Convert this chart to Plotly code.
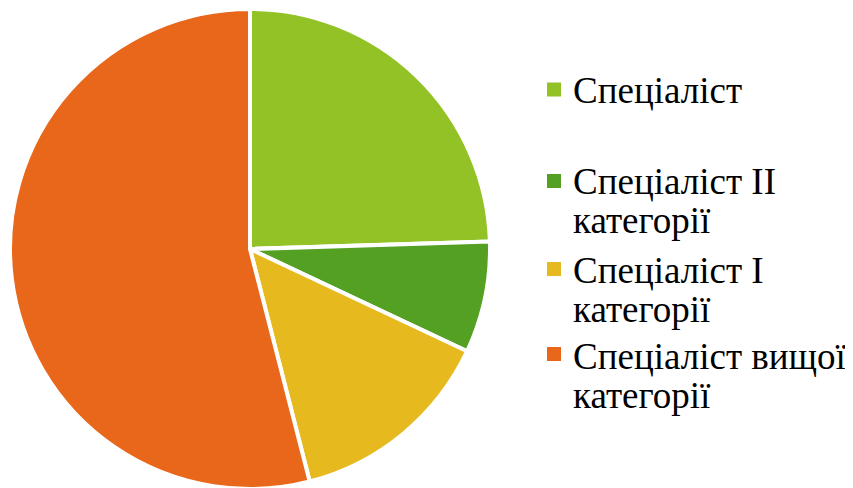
import plotly.graph_objects as go

categories = ["Спеціаліст", "Спеціаліст II категорії", "Спеціаліст I категорії", "Спеціаліст вищої категорії"]
legend_lines = [["Спеціаліст"], ["Спеціаліст II", "категорії"], ["Спеціаліст I", "категорії"], ["Спеціаліст вищої", "категорії"]]
values = [24.5, 7.5, 14.0, 54.0]
colors = ["#92C225", "#53A023", "#E6BA1F", "#E8671A"]

W, H = 853, 488
OFF = 8  # page body margin in the browser

fig = go.Figure()
fig.add_trace(go.Pie(
    labels=categories,
    values=values,
    sort=False,
    direction="clockwise",
    rotation=0,
    textinfo="none",
    hoverinfo="label+percent",
    marker=dict(colors=colors, line=dict(color="white", width=4)),
    domain=dict(x=[(10 - OFF) / W, (490 - OFF) / W], y=[(H - (489 - OFF)) / H, (H - (9 - OFF)) / H]),
    showlegend=False,
))

font_size = 37
baselines = [[102], [193, 232], [282, 321], [368, 407]]
marker_centers = [89.5, 181, 269, 354]
shapes = []
annotations = []
for i, lines in enumerate(legend_lines):
    cy = marker_centers[i] - OFF
    shapes.append(dict(type="rect", xref="paper", yref="paper",
                       x0=(547 - OFF) / W, x1=(561 - OFF) / W, y0=1 - (cy + 7) / H, y1=1 - (cy - 7) / H,
                       fillcolor=colors[i], line=dict(width=0)))
    for j, line in enumerate(lines):
        b = baselines[i][j] - OFF
        ymid = b - 0.30 * font_size
        annotations.append(dict(text=line, xref="paper", yref="paper",
                                x=(571 - OFF) / W, y=1 - ymid / H, xanchor="left", yanchor="middle",
                                showarrow=False,
                                font=dict(family="Liberation Serif", size=font_size, color="black")))

fig.update_layout(
    width=W, height=H,
    margin=dict(l=0, r=0, t=0, b=0),
    paper_bgcolor="white",
    plot_bgcolor="white",
    shapes=shapes,
    annotations=annotations,
)

fig.write_html("out.html")
